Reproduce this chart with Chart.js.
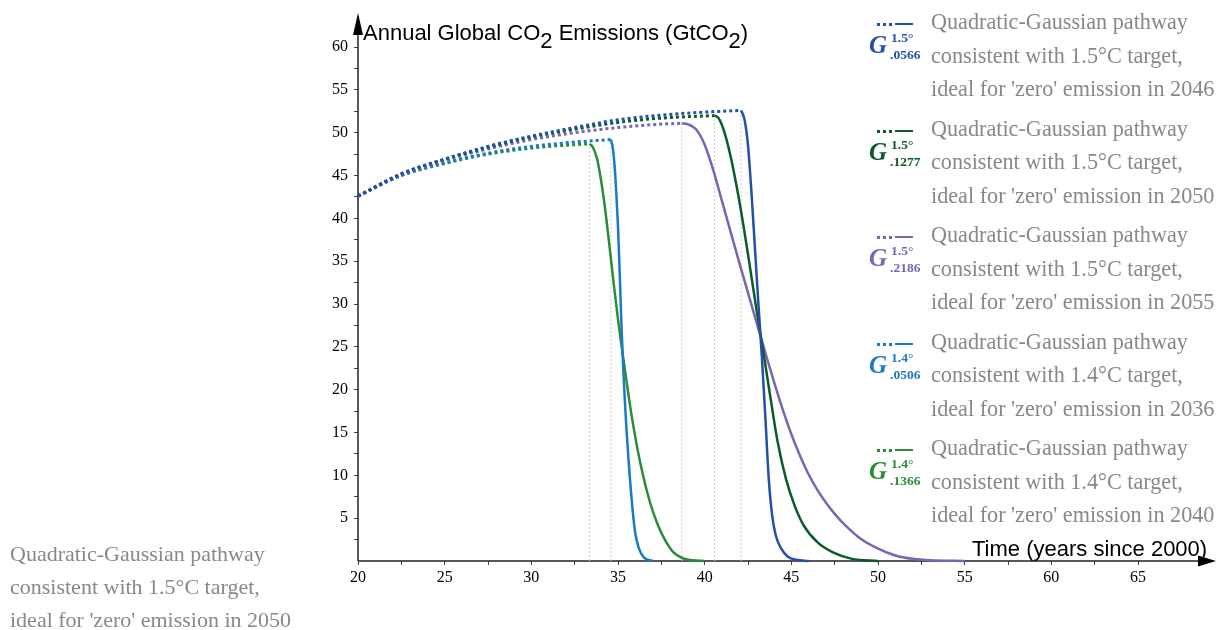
<!DOCTYPE html>
<html>
<head>
<meta charset="utf-8">
<script src="https://cdn.jsdelivr.net/npm/chart.js@4.4.1/dist/chart.umd.min.js"></script>
<style>
    body { margin: 0; background: #fff; }
    #wrap { position: relative; width: 1217px; height: 630px; overflow: hidden; }
    #myChart { position: absolute; left: 0; top: 0; }
    .serif { font-family: "Liberation Serif", "Times New Roman", serif; }
    .sans { font-family: "Liberation Sans", Arial, sans-serif; }
    .entry { position: absolute; left: 866px; width: 351px; height: 104px; }
    .entry .txt { position: absolute; left: 65px; top: 0; font-size: 22.2px; line-height: 33.5px; color: #888; white-space: pre; }
    .entry .dots { position: absolute; left: 11px; top: 18px; width: 15px; height: 0; border-top: 3px dotted; }
    .entry .solid { position: absolute; left: 29px; top: 18px; width: 18px; height: 0; border-top: 2.5px solid; }
    .entry .g { position: absolute; left: 3px; top: 27px; font-size: 25px; line-height: 25px; font-style: italic; font-weight: bold; }
    .entry .sup { position: absolute; left: 25px; top: 26px; font-size: 13.5px; line-height: 13.5px; font-weight: bold; }
    .entry .sub { position: absolute; left: 24px; top: 43px; font-size: 13.5px; line-height: 13.5px; font-weight: bold; }
    #ytitle { position: absolute; left: 363px; top: 22px; font-size: 22px; line-height: 22px; color: #000; white-space: nowrap; }
    #ytitle span, #xtitle span { position: relative; top: 8px; }
    #xtitle { position: absolute; left: 972px; top: 538px; font-size: 22px; line-height: 22px; color: #000; white-space: nowrap; }
    #stray { position: absolute; left: 10px; top: 537px; font-size: 22px; line-height: 33px; color: #888; white-space: pre; }
</style>
</head>
<body>
<div id="wrap">
    <canvas id="myChart" width="1217" height="630"></canvas>
    <div id="ytitle" class="sans">Annual Global CO<span>2</span> Emissions (GtCO<span>2</span>)</div>
    <div id="xtitle" class="sans">Time (years since 2000)</div>
    <div id="legend"></div>
    <div id="stray" class="serif"></div>
</div>
<script>
// values: [years since 2000, GtCO2]
// quadratic (dotted) part of each pathway
const blueQuad = [[20, 42.6], [22.5, 45.2], [25, 46.9], [27.5, 48.4], [30, 49.6], [32.5, 50.6], [35, 51.5], [37.5, 52.05], [40, 52.4], [42.1, 52.6]];
const darkGreenQuad = [[20, 42.6], [22.5, 45.2], [25, 46.9], [27.5, 48.3], [30, 49.5], [32.5, 50.4], [35, 51.2], [37.5, 51.7], [40.57, 52.0]];
const purpleQuad = [[20, 42.6], [22.5, 45.1], [25, 46.8], [27.5, 48.1], [30, 49.2], [32.5, 50.0], [35, 50.6], [37.5, 51.0], [38.68, 51.1]];
const lightBlueQuad = [[20, 42.6], [22.5, 45.0], [25, 46.5], [27.5, 47.6], [30, 48.4], [32.5, 48.9], [34.59, 49.2]];
const greenQuad = [[20, 42.6], [22.5, 45.0], [25, 46.4], [27.5, 47.5], [30, 48.2], [32.5, 48.6], [33.36, 48.7]];

// gaussian (solid) part of each pathway
const blueGauss = [[42.1, 52.6], [42.3, 51.5], [42.5, 48.5], [42.7, 43.0], [42.9, 36.5], [43.1, 30.0], [43.3, 23.8], [43.5, 16.8], [43.7, 9.5], [43.9, 5.2], [44.1, 3.0], [44.4, 1.5], [44.8, 0.5], [45.3, 0.15], [46.0, 0]];
const darkGreenGauss = [[40.57, 52.0], [40.8, 51.7], [41.1, 50.3], [41.5, 47.2], [42.0, 42.0], [42.5, 35.8], [43.0, 29.2], [43.4, 24.2], [43.8, 19.0], [44.2, 14.0], [44.7, 9.5], [45.2, 6.4], [45.7, 4.2], [46.5, 2.2], [47.4, 1.0], [48.5, 0.25], [50, 0]];
const purpleGauss = [[38.68, 51.1], [39.0, 51.0], [39.5, 50.4], [40.0, 48.6], [40.5, 45.6], [41.0, 42.0], [41.5, 38.4], [42.0, 34.8], [42.5, 31.3], [43.0, 27.8], [43.5, 24.3], [44.0, 20.9], [44.5, 17.7], [45.0, 14.8], [45.5, 12.3], [46.0, 10.1], [46.5, 8.3], [47.0, 6.8], [47.5, 5.5], [48.0, 4.4], [49.0, 2.6], [50.0, 1.45], [51.0, 0.65], [52.0, 0.25], [53.0, 0.08], [55.0, 0]];
const lightBlueGauss = [[34.59, 49.2], [34.7, 48.2], [34.8, 46.2], [34.9, 43.0], [35.0, 39.0], [35.1, 33.5], [35.2, 27.5], [35.3, 22.5], [35.4, 18.5], [35.5, 15.0], [35.6, 12.0], [35.7, 9.3], [35.8, 6.9], [35.9, 4.8], [36.0, 3.2], [36.2, 1.5], [36.5, 0.4], [37.0, 0]];
const greenGauss = [[33.36, 48.7], [33.55, 48.3], [33.8, 46.9], [34.0, 44.7], [34.2, 42.0], [34.45, 37.8], [34.75, 32.4], [35.0, 28.2], [35.2, 25.2], [35.4, 22.3], [35.8, 16.8], [36.3, 11.3], [36.85, 6.8], [37.3, 4.2], [37.7, 2.5], [38.2, 1.0], [38.7, 0.35], [39.3, 0.08], [40, 0]];

const seriesSubs = ['.0566', '.1277', '.2186', '.0506', '.1366'];
const seriesTargets = ['1.5', '1.5', '1.5', '1.4', '1.4'];
const zeroYears = [2046, 2050, 2055, 2036, 2040];
const strayTarget = '1.5';
const strayYear = 2050;

const xTickLabels = [20, 25, 30, 35, 40, 45, 50, 55, 60, 65];
const yTickLabels = [5, 10, 15, 20, 25, 30, 35, 40, 45, 50, 55, 60];

const seriesColors = ['#2350a8', '#0b5a2b', '#7766b3', '#1a7ac4', '#2a8c3b'];

const quads = [blueQuad, darkGreenQuad, purpleQuad, lightBlueQuad, greenQuad];
const gausses = [blueGauss, darkGreenGauss, purpleGauss, lightBlueGauss, greenGauss];

function toXY(arr) {
    return arr.map(p => ({ x: p[0], y: p[1] }));
}

const datasets = [];
quads.forEach(function (q, i) {
    datasets.push({
        data: toXY(q),
        borderColor: seriesColors[i],
        borderWidth: 3,
        borderDash: [3, 3],
        cubicInterpolationMode: 'monotone',
        pointRadius: 0,
        clip: false,
        order: 1
    });
    datasets.push({
        data: toXY(gausses[i]),
        borderColor: seriesColors[i],
        borderWidth: 2.5,
        cubicInterpolationMode: 'monotone',
        pointRadius: 0,
        clip: false,
        order: 1
    });
    // gray marker from the switch point down to the axis
    const last = q[q.length - 1];
    datasets.push({
        data: [{ x: last[0], y: 0 }, { x: last[0], y: last[1] }],
        borderColor: '#cfcfcf',
        borderWidth: 1,
        borderDash: [2, 2],
        pointRadius: 0,
        order: 10
    });
});

// axes with arrow heads
const arrowAxes = {
    id: 'arrowAxes',
    beforeDatasetsDraw(chart) {
        const c = chart.ctx;
        const x0 = chart.scales.x.getPixelForValue(20);
        const y0 = chart.scales.y.getPixelForValue(0);
        c.save();
        c.strokeStyle = '#222';
        c.fillStyle = '#000';
        c.lineWidth = 1.5;
        c.beginPath();
        c.moveTo(x0, y0);
        c.lineTo(1200, y0);
        c.moveTo(x0, y0);
        c.lineTo(x0, 30);
        c.stroke();
        c.beginPath();
        c.moveTo(1198, y0 - 5.5);
        c.lineTo(1216, y0);
        c.lineTo(1198, y0 + 5.5);
        c.closePath();
        c.fill();
        c.beginPath();
        c.moveTo(x0 - 5, 35);
        c.lineTo(x0, 13);
        c.lineTo(x0 + 5, 35);
        c.closePath();
        c.fill();
        c.restore();
    }
};

const ctx = document.getElementById('myChart').getContext('2d');
const tickFont = { family: '"Liberation Serif", "Times New Roman", serif', size: 16 };

const myChart = new Chart(ctx, {
    type: 'line',
    data: { datasets: datasets },
    options: {
        responsive: false,
        animation: false,
        events: [],
        layout: { padding: { top: 25.6, right: 18.3, left: 0, bottom: 0 } },
        plugins: { legend: { display: false }, tooltip: { enabled: false } },
        scales: {
            x: {
                type: 'linear',
                min: 20,
                max: 68.5,
                border: { display: false },
                grid: { drawOnChartArea: false, drawTicks: true, tickLength: 4, color: '#444' },
                ticks: {
                    stepSize: 2.5,
                    autoSkip: false,
                    maxRotation: 0,
                    padding: 3,
                    color: '#000',
                    font: tickFont,
                    callback: v => xTickLabels.includes(v) ? String(v) : ''
                },
                afterBuildTicks: s => { s.ticks = s.ticks.filter(t => t.value <= 67.5); },
                afterFit: s => { s.height = 69; }
            },
            y: {
                min: 0,
                max: 62.5,
                border: { display: false },
                grid: { drawOnChartArea: false, drawTicks: true, tickLength: 4, color: '#444' },
                ticks: {
                    stepSize: 2.5,
                    autoSkip: false,
                    padding: 6,
                    color: '#000',
                    font: tickFont,
                    callback: v => yTickLabels.includes(v) ? String(v) : ''
                },
                afterBuildTicks: s => { s.ticks = s.ticks.filter(t => t.value > 0 && t.value <= 60); },
                afterFit: s => { s.width = 358; }
            }
        }
    },
    plugins: [arrowAxes]
});

// html legend, built from the series arrays
function entryText(target, year) {
    return 'Quadratic-Gaussian pathway\nconsistent with ' + target + '°C target,\nideal for \'zero\' emission in ' + year;
}

const legend = document.getElementById('legend');
seriesSubs.forEach(function (sub, i) {
    const e = document.createElement('div');
    e.className = 'entry serif';
    e.style.top = (5 + i * 106.6) + 'px';
    e.style.color = seriesColors[i];
    e.innerHTML =
        '<div class="dots"></div><div class="solid"></div>' +
        '<div class="g">G</div>' +
        '<div class="sup">' + seriesTargets[i] + '°</div>' +
        '<div class="sub">' + sub + '</div>' +
        '<div class="txt">' + entryText(seriesTargets[i], zeroYears[i]) + '</div>';
    legend.appendChild(e);
});

document.getElementById('stray').textContent = entryText(strayTarget, strayYear);
</script>
</body>
</html>
